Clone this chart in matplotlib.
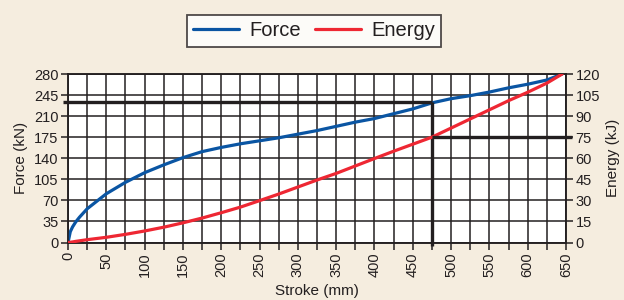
import matplotlib

matplotlib.use("Agg")

import matplotlib.pyplot as plt
import numpy as np

plt.rcParams["font.family"] = ["Liberation Sans", "DejaVu Sans"]

# data
stroke = [0, 3, 6, 10, 15, 25, 50, 75, 100, 125, 150, 175, 200, 225, 250, 275, 300,
          325, 350, 375, 400, 425, 450, 475, 500, 525, 550, 575, 600, 625, 645]
force = [0, 18, 26, 34, 42, 56, 81, 100, 116, 129, 141, 151, 158, 164, 169, 174, 180,
         186, 193, 200, 206, 214, 222, 232, 239, 244, 250, 257, 263, 270, 280]
energy = [0, 0.2, 0.4, 0.8, 1.2, 2.0, 3.7, 5.8, 8.2, 10.9, 14.0, 17.4, 21.2, 25.2,
          29.8, 34.5, 39.5, 44.5, 49.2, 54.5, 59.8, 65.0, 70.0, 75.0, 81.5, 88.0,
          94.5, 101.0, 107.0, 113.5, 120.0]

# operating point marked on the chart
mark_stroke = 475
mark_force = 233
mark_energy = 75

force_ticks = np.arange(0, 281, 35)
energy_ticks = np.arange(0, 121, 15)
stroke_major = np.arange(0, 651, 50)
stroke_minor = np.arange(0, 651, 25)

BG = "#f5eddf"
INK = "#231f20"
BLUE = "#0a55a3"
RED = "#ee2733"

fig = plt.figure(figsize=(6.24, 3.0), dpi=100, facecolor=BG)
ax = fig.add_axes([68 / 624, 1 - 242.5 / 300, (566 - 68) / 624, (242.5 - 74) / 300])
ax.set_facecolor("white")
ax2 = ax.twinx()

ax.set_xlim(0, 650)
ax.set_ylim(0, 280)
ax2.set_ylim(0, 120)

ax.set_xticks(stroke_major)
ax.set_xticks(stroke_minor, minor=True)
ax.set_yticks(force_ticks)
ax2.set_yticks(energy_ticks)
ax.set_xticklabels([str(v) for v in stroke_major], rotation=90)

ax.grid(True, which="both", color=INK, linewidth=1.1)
ax.set_axisbelow(True)
for a in (ax, ax2):
    for s in a.spines.values():
        s.set_color(INK)
        s.set_linewidth(1.1)
ax.tick_params(which="both", direction="out", length=5, width=1.1, color=INK,
               labelsize=10.5, labelcolor=INK, pad=2)
ax2.tick_params(direction="out", length=5, width=1.1, color=INK,
                labelsize=10.5, labelcolor=INK, pad=2)

l1, = ax.plot(stroke, force, color=BLUE, linewidth=2.3, zorder=3, label="Force",
              solid_capstyle="round", solid_joinstyle="round")
l2, = ax2.plot(stroke, energy, color=RED, linewidth=2.3, zorder=3, label="Energy",
               solid_capstyle="round", solid_joinstyle="round")

# reference lines
ax.plot([-7, mark_stroke], [mark_force, mark_force], color=INK, linewidth=2.4,
        clip_on=False, zorder=4, solid_capstyle="butt")
ax.plot([mark_stroke, mark_stroke], [-5, mark_force], color=INK, linewidth=2.4,
        clip_on=False, zorder=4, solid_capstyle="butt")
ax2.plot([mark_stroke, 658], [mark_energy, mark_energy], color=INK, linewidth=2.4,
         clip_on=False, zorder=4, solid_capstyle="butt")

ax.set_xlabel("Stroke (mm)", fontsize=11, color=INK, labelpad=5)
ax.set_ylabel("Force (kN)", fontsize=11, color=INK, labelpad=4)
ax2.set_ylabel("Energy (kJ)", fontsize=11, color=INK, labelpad=4)

leg = fig.legend(handles=[l1, l2], loc="center", bbox_to_anchor=(314 / 624, 1 - 31 / 300),
                 ncol=2, frameon=True, fancybox=False, fontsize=14.5, handlelength=2.3,
                 handletextpad=0.5, columnspacing=0.7, borderpad=0.3,
                 borderaxespad=0)
leg.get_frame().set_edgecolor(INK)
leg.get_frame().set_linewidth(1.3)
for t in leg.get_texts():
    t.set_color(INK)

fig.savefig("out.png", facecolor=BG)
